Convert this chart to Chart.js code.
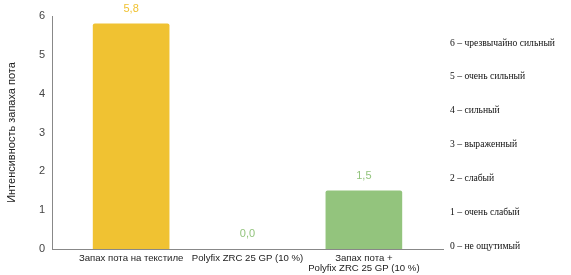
<!DOCTYPE html>
<html>
<head>
<meta charset="utf-8">
<script src="https://cdn.jsdelivr.net/npm/chart.js@4"></script>
<style>
  body { margin: 0; background: #fff; }
  #wrap { width: 571px; height: 275px; }
</style>
</head>
<body>
<div id="wrap"><canvas id="chart"></canvas></div>
<script>
const categories = [
  'Запах пота на текстиле',
  'Polyfix ZRC 25 GP (10 %)',
  ['Запах пота +', 'Polyfix ZRC 25 GP (10 %)']
];
const values = [5.8, 0.0, 1.5];
const barColors = ['#F0C232', '#93C47D', '#93C47D'];
const scaleLabels = [
  '0 – не ощутимый',
  '1 – очень слабый',
  '2 – слабый',
  '3 – выраженный',
  '4 – сильный',
  '5 – очень сильный',
  '6 – чрезвычайно сильный'
];

// value labels above bars
const valueLabels = {
  id: 'valueLabels',
  afterDatasetsDraw(chart) {
    const ctx = chart.ctx;
    const meta = chart.getDatasetMeta(0);
    ctx.save();
    ctx.font = '11px Arial, "Liberation Sans", sans-serif';
    ctx.textAlign = 'center';
    ctx.textBaseline = 'middle';
    meta.data.forEach((bar, i) => {
      ctx.fillStyle = barColors[i];
      ctx.fillText(values[i].toFixed(1).replace('.', ','), bar.x, bar.y - 15);
    });
    ctx.restore();
  }
};

new Chart(document.getElementById('chart'), {
  type: 'bar',
  data: {
    datasets: [{
      data: values.map((v, i) => ({ x: i, y: v })),
      backgroundColor: (c) => values[c.dataIndex] > 0 ? barColors[c.dataIndex] : 'rgba(0,0,0,0)',
      borderRadius: (c) => values[c.dataIndex] > 0 ? 2 : 0,
      borderSkipped: 'bottom',
      barThickness: 76
    }]
  },
  options: {
    responsive: true,
    maintainAspectRatio: false,
    animation: false,
    layout: { padding: { top: 16, left: 0, right: 0, bottom: 0 } },
    plugins: {
      legend: { display: false },
      tooltip: { enabled: false }
    },
    scales: {
      x: {
        type: 'linear',
        offset: false,
        min: -0.68,
        max: 2.68,
        grid: { display: false, drawTicks: false },
        border: { color: '#888', width: 1 },
        afterBuildTicks: (scale) => {
          scale.ticks = categories.map((c, i) => ({ value: i }));
        },
        afterFit: (scale) => { scale.height = 26; },
        ticks: {
          autoSkip: false,
          maxRotation: 0,
          padding: 4,
          color: '#222',
          font: { size: 9.6, family: 'Arial, "Liberation Sans", sans-serif', lineHeight: 1.05 },
          callback: (v) => categories[v]
        }
      },
      y: {
        min: 0,
        max: 6,
        position: 'left',
        grid: { display: false, drawTicks: false },
        border: { color: '#888', width: 1 },
        afterFit: (scale) => { scale.width = 52; },
        ticks: {
          stepSize: 1,
          padding: 7,
          color: '#444',
          font: { size: 11, family: 'Arial, "Liberation Sans", sans-serif' }
        },
        title: {
          display: true,
          text: 'Интенсивность запаха пота',
          color: '#222',
          padding: { top: 5, bottom: 0 },
          font: { size: 11, family: 'Arial, "Liberation Sans", sans-serif' }
        }
      },
      y2: {
        position: 'right',
        min: -0.089,
        max: 6.798,
        grid: { display: false, drawTicks: false },
        border: { display: false },
        afterFit: (scale) => { scale.width = 128; },
        afterBuildTicks: (scale) => {
          scale.ticks = scaleLabels.map((s, i) => ({ value: i }));
        },
        ticks: {
          padding: 7,
          color: '#111',
          font: { size: 9.6, family: '"Liberation Serif", "Times New Roman", serif' },
          callback: (v) => scaleLabels[v]
        }
      }
    }
  },
  plugins: [valueLabels]
});
</script>
</body>
</html>
